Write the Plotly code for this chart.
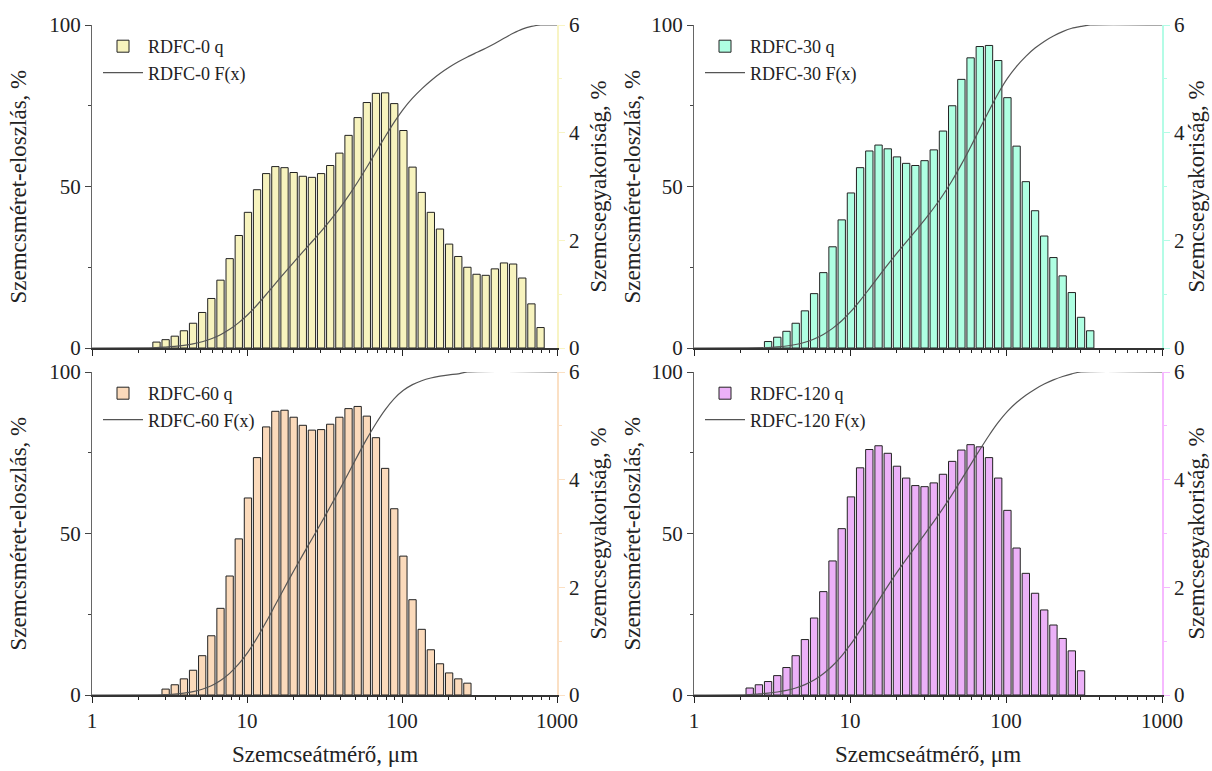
import numpy as np
import plotly.graph_objects as go

# Particle size bin centres (µm), common grid for all samples
D = [2.275, 2.606, 2.985, 3.420, 3.917, 4.487, 5.140, 5.888, 6.745, 7.727,
     8.851, 10.14, 11.61, 13.30, 15.24, 17.46, 20.00, 22.91, 26.24, 30.06,
     34.43, 39.45, 45.19, 51.76, 59.29, 67.92, 77.80, 89.13, 102.1, 116.9,
     134.0, 153.5, 175.8, 201.4, 230.7, 264.2, 302.7, 346.7, 397.2, 455.0,
     521.2, 597.0, 683.9, 783.4]

# q (%) per bin
Q0 = [0.11, 0.155, 0.22, 0.32, 0.46, 0.66, 0.92, 1.26, 1.66, 2.09,
      2.52, 2.94, 3.24, 3.37, 3.35, 3.26, 3.19, 3.17, 3.24, 3.39,
      3.62, 3.95, 4.28, 4.56, 4.73, 4.74, 4.54, 4.04, 3.36, 2.89,
      2.52, 2.21, 1.93, 1.70, 1.50, 1.37, 1.35, 1.47, 1.58, 1.56,
      1.30, 0.82, 0.38]
Q30 = [0.12, 0.20, 0.31, 0.46, 0.69, 1.01, 1.40, 1.88, 2.38, 2.88,
       3.35, 3.66, 3.77, 3.70, 3.55, 3.43, 3.39, 3.48, 3.68, 4.03,
       4.50, 4.99, 5.39, 5.60, 5.62, 5.34, 4.65, 3.75, 3.09, 2.55,
       2.08, 1.68, 1.34, 1.03, 0.57, 0.32]
Q60 = [0.11, 0.19, 0.30, 0.46, 0.73, 1.10, 1.61, 2.21, 2.90, 3.66,
       4.41, 4.98, 5.27, 5.29, 5.16, 5.01, 4.92, 4.93, 5.03, 5.16,
       5.32, 5.36, 5.18, 4.78, 4.21, 3.46, 2.58, 1.77, 1.22, 0.84,
       0.58, 0.41, 0.30, 0.22]
Q120 = [0.13, 0.19, 0.25, 0.36, 0.51, 0.73, 1.03, 1.43, 1.92, 2.49,
        3.09, 3.68, 4.22, 4.56, 4.63, 4.49, 4.25, 4.03, 3.89, 3.87,
        3.94, 4.10, 4.34, 4.55, 4.65, 4.61, 4.41, 4.03, 3.43, 2.73,
        2.26, 1.89, 1.58, 1.30, 1.05, 0.82, 0.45]

# Cumulative distribution F(x) (%) at the bin centres
F0 = [0.11, 0.27, 0.49, 0.81, 1.27, 1.93, 2.85, 4.11, 5.77, 7.86,
      10.38, 13.32, 16.56, 19.93, 23.28, 26.54, 29.73, 32.90, 36.14, 39.53,
      43.15, 47.10, 51.38, 55.94, 60.67, 65.41, 69.95, 73.99, 77.35, 80.24,
      82.76, 84.97, 86.90, 88.60, 90.10, 91.47, 92.82, 94.29, 95.87, 97.43,
      98.73, 99.55, 100.0]
F30 = [0.12, 0.32, 0.63, 1.09, 1.78, 2.79, 4.19, 6.07, 8.45, 11.33,
       14.68, 18.34, 22.11, 25.81, 29.36, 32.79, 36.18, 39.66, 43.34, 47.37,
       51.87, 56.86, 62.25, 67.85, 73.47, 78.81, 83.46, 87.21, 90.30, 92.85,
       94.93, 96.61, 97.95, 98.98, 99.55, 100.0]
F60 = [0.11, 0.30, 0.60, 1.06, 1.79, 2.89, 4.50, 6.71, 9.61, 13.27,
       17.68, 22.66, 27.93, 33.22, 38.38, 43.39, 48.31, 53.24, 58.27, 63.43,
       68.75, 74.11, 79.29, 84.07, 88.28, 91.74, 94.32, 96.09, 97.31, 98.15,
       98.73, 99.14, 99.44, 100.0]
F120 = [0.13, 0.32, 0.57, 0.93, 1.44, 2.17, 3.20, 4.63, 6.55, 9.04,
        12.13, 15.81, 20.03, 24.59, 29.22, 33.71, 37.96, 41.99, 45.88, 49.75,
        53.69, 57.79, 62.13, 66.68, 71.33, 75.94, 80.35, 84.38, 87.81, 90.54,
        92.80, 94.69, 96.27, 97.57, 98.62, 99.44, 100.0]

X_TICKS = [1, 10, 100, 1000]
X_TICKTEXT = ["1", "10", "100", "1000"]
X_MINOR = [m * 10 ** e for e in range(3) for m in range(2, 10)]

SAMPLES = ["RDFC-0", "RDFC-30", "RDFC-60", "RDFC-120"]
Q_ALL = [Q0, Q30, Q60, Q120]
F_ALL = [F0, F30, F60, F120]
START = [1, 2, 2, 0]  # first bin index of each sample in D

FILL = ["#F7F3BE", "#AFFFE2", "#FBDABB", "#ECB1F8"]
AXCOL = ["#F8F4C4", "#B4FCE6", "#FBE0C4", "#F6B9FF"]

W, H = 1212, 771
COLS = [(92, 557), (694, 1162)]
ROWS = [(25, 348), (372, 695)]
LEFT_TITLE_OFF = [74, 62]
RIGHT_TITLE_OFF = [41, 34]
FONT = "Liberation Serif"
DARK = "#222222"
TICKSIZE = 21
TITLESIZE = 23

fig = go.Figure()

for i in range(4):
    n = i + 1
    r, c = divmod(i, 2)
    x0, x1 = COLS[c]
    y0, y1 = ROWS[r]
    xdom = [x0 / W, x1 / W]
    ydom = [1 - y1 / H, 1 - y0 / H]
    xa = "x" if n == 1 else f"x{n}"
    yq = "y" if n == 1 else f"y{n}"
    yf = f"y{n + 4}"
    leg = "legend" if n == 1 else f"legend{n}"
    s = START[i]
    q = Q_ALL[i]
    dsub = D[s:s + len(q)]

    fig.add_trace(go.Bar(
        x=np.log10(dsub), y=q, xaxis=xa, yaxis=yq,
        marker=dict(color=FILL[i], line=dict(color=DARK, width=1)),
        name=f"{SAMPLES[i]} q", legend=leg))
    fx = np.log10([1.0] + dsub + [1000.0])
    fy = [0.0] + F_ALL[i] + [100.0]
    fig.add_trace(go.Scatter(
        x=fx, y=fy, xaxis=xa, yaxis=yf, mode="lines",
        line=dict(color="#555555", width=1.2, shape="spline", smoothing=0.8),
        name=f"{SAMPLES[i]} F(x)", legend=leg))

    xkey = "xaxis" if n == 1 else f"xaxis{n}"
    fig.layout[xkey] = dict(
        domain=xdom, anchor=yq, range=[0, 3],
        tickmode="array", tickvals=np.log10(X_TICKS), ticktext=X_TICKTEXT,
        showticklabels=(r == 1), ticks="outside", ticklen=6, tickwidth=1.2,
        tickcolor=DARK, showline=True, linecolor="#333333", linewidth=1.5,
        showgrid=False, zeroline=False,
        minor=dict(tickmode="array", tickvals=np.log10(X_MINOR), ticks="outside",
                   ticklen=3, tickwidth=1, tickcolor=DARK, showgrid=False),
        tickfont=dict(family=FONT, size=TICKSIZE, color=DARK), fixedrange=True)
    # mirrored top axis with inward ticks
    fig.layout[f"xaxis{n + 4}"] = dict(
        overlaying=xa, anchor=yq, side="top", range=[0, 3],
        tickmode="array", tickvals=np.log10(X_TICKS), showticklabels=False,
        ticks="inside", ticklen=6, tickwidth=1.2, tickcolor=DARK,
        showline=True, linecolor="#555555", linewidth=1.5,
        showgrid=False, zeroline=False,
        minor=dict(tickmode="array", tickvals=np.log10(X_MINOR), ticks="inside",
                   ticklen=3, tickwidth=1, tickcolor=DARK, showgrid=False))
    yqkey = "yaxis" if n == 1 else f"yaxis{n}"
    fig.layout[yqkey] = dict(
        domain=ydom, anchor=xa, side="right", range=[0, 6],
        tickmode="array", tickvals=[0, 2, 4, 6], ticks="outside", ticklen=6,
        tickwidth=1.2, tickcolor=AXCOL[i], showline=True, linecolor=AXCOL[i],
        linewidth=1.5, showgrid=False, zeroline=False,
        minor=dict(tickmode="array", tickvals=[1, 3, 5], ticks="outside",
                   ticklen=3, tickwidth=1, tickcolor=AXCOL[i], showgrid=False),
        tickfont=dict(family=FONT, size=TICKSIZE, color=DARK), fixedrange=True)
    fig.layout[f"yaxis{n + 4}"] = dict(
        overlaying=yq, anchor=xa, side="left", range=[0, 100],
        tickmode="array", tickvals=[0, 50, 100], ticks="outside", ticklen=6,
        tickwidth=1.2, tickcolor="#444444", showline=True, linecolor="#666666",
        linewidth=1.2, showgrid=False, zeroline=False,
        minor=dict(tickmode="array", tickvals=[25, 75], ticks="outside",
                   ticklen=3, tickwidth=1, tickcolor="#444444", showgrid=False),
        tickfont=dict(family=FONT, size=TICKSIZE, color=DARK), fixedrange=True)

    fig.layout[leg] = dict(
        x=(x0 + 6) / W, y=1 - (y0 + 3) / H, xanchor="left", yanchor="top",
        bgcolor="rgba(0,0,0,0)", font=dict(family=FONT, size=18, color=DARK),
        itemwidth=40, tracegroupgap=0)

    ymid = 1 - (y0 + y1) / 2 / H
    fig.add_annotation(text="Szemcsméret-eloszlás, %", textangle=-90,
                       xref="paper", yref="paper",
                       x=(x0 - LEFT_TITLE_OFF[c]) / W, y=ymid,
                       xanchor="center", yanchor="middle", showarrow=False,
                       font=dict(family=FONT, size=TITLESIZE, color=DARK))
    fig.add_annotation(text="Szemcsegyakoriság, %", textangle=-90,
                       xref="paper", yref="paper",
                       x=(x1 + RIGHT_TITLE_OFF[c]) / W, y=ymid,
                       xanchor="center", yanchor="middle", showarrow=False,
                       font=dict(family=FONT, size=TITLESIZE, color=DARK))
    if r == 1:
        fig.add_annotation(text="Szemcseátmérő, μm", xref="paper", yref="paper",
                           x=(x0 + x1) / 2 / W, y=1 - 754 / H,
                           xanchor="center", yanchor="middle", showarrow=False,
                           font=dict(family=FONT, size=TITLESIZE, color=DARK))

fig.update_layout(width=W, height=H,
                  margin=dict(l=0, r=0, t=0, b=0, autoexpand=False),
                  plot_bgcolor="white", paper_bgcolor="white", bargap=0.2,
                  showlegend=True, font=dict(family=FONT, color=DARK))

fig.write_html("out.html")
